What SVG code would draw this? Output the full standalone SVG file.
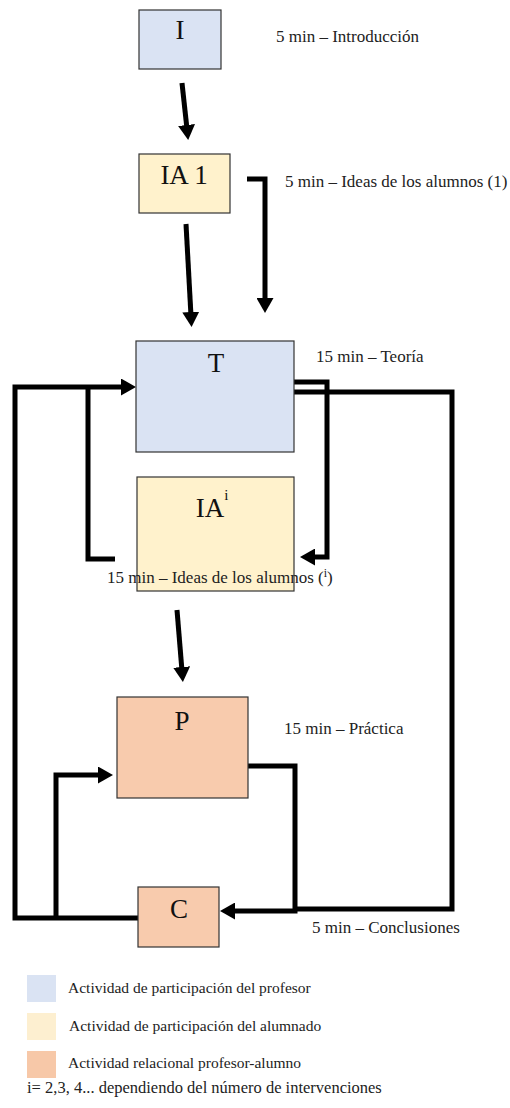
<svg xmlns="http://www.w3.org/2000/svg" width="510" height="1108" viewBox="0 0 510 1108">
<style>
.box{stroke:#333;stroke-width:1.2}
.blue{fill:#dae3f3}
.yel{fill:#fff2cc}
.ora{fill:#f8cbad}
.big{font-family:"Liberation Serif",serif;font-size:27px;fill:#111;text-anchor:middle}
.lbl{font-family:"Liberation Serif",serif;font-size:17px;fill:#222}
.leg{font-family:"Liberation Serif",serif;font-size:15.5px;fill:#222}
.c{fill:none;stroke:#000;stroke-width:5}
</style>
<defs>
<marker id="ah" viewBox="0 0 15 17" refX="4" refY="8.5" markerWidth="15" markerHeight="17" markerUnits="userSpaceOnUse" orient="auto">
<path d="M0,0 L15,8.5 L0,17 z" fill="#000"/>
</marker>
</defs>
<rect width="510" height="1108" fill="#fff"/>
<g id="connectors">
<path class="c" d="M182,83 L187,129" marker-end="url(#ah)"/>
<path class="c" d="M186,224 L191,316" marker-end="url(#ah)"/>
<path class="c" d="M247,179 H265 V302" marker-end="url(#ah)"/>
<path class="c" d="M294,382 H327 V557 H311" marker-end="url(#ah)"/>
<path class="c" d="M115,559 H88 V387"/>
<path class="c" d="M138,918 H15 V387 H125" marker-end="url(#ah)"/>
<path class="c" d="M56,918 V775 H102" marker-end="url(#ah)"/>
<path class="c" d="M294,392 H452 V909 H295"/>
<path class="c" d="M248,766 H295 V911 H231" marker-end="url(#ah)"/>
<path class="c" d="M177,610 L182,671" marker-end="url(#ah)"/>
</g>
<g id="node-I">
<rect class="box blue" x="139" y="10" width="82" height="59"/>
<text class="big" x="180" y="39">I</text>
<text class="lbl" x="276" y="42">5 min – Introducción</text>
</g>
<g id="node-IA1">
<rect class="box yel" x="139" y="154" width="91" height="59"/>
<text class="big" x="184" y="184">IA 1</text>
<text class="lbl" x="285" y="187">5 min – Ideas de los alumnos (1)</text>
</g>
<g id="node-T">
<rect class="box blue" x="136" y="341" width="158" height="111"/>
<text class="big" x="216" y="372">T</text>
<text class="lbl" x="316" y="362">15 min – Teoría</text>
</g>
<g id="node-IAi">
<rect class="box yel" x="137" y="477" width="157" height="114"/>
<text class="big" x="212" y="517">IA<tspan font-size="15" dy="-17">i</tspan></text>
<text class="lbl" x="107" y="583">15 min – Ideas de los alumnos (<tspan font-size="12" dy="-6">i</tspan><tspan dy="6">)</tspan></text>
</g>
<g id="node-P">
<rect class="box ora" x="117" y="697" width="131" height="101"/>
<text class="big" x="182" y="730">P</text>
<text class="lbl" x="284" y="734">15 min – Práctica</text>
</g>
<g id="node-C">
<rect class="box ora" x="138" y="887" width="81" height="60"/>
<text class="big" x="179" y="918">C</text>
<text class="lbl" x="312" y="933">5 min – Conclusiones</text>
</g>
<g id="legend">
<rect x="27" y="975" width="29" height="27" fill="#dae3f3"/>
<text class="leg" x="68" y="993">Actividad de participación del profesor</text>
<rect x="27" y="1013" width="29" height="27" fill="#fdefd0"/>
<text class="leg" x="69" y="1031">Actividad de participación del alumnado</text>
<rect x="27" y="1051" width="29" height="27" fill="#f7c8a8"/>
<text class="leg" x="68" y="1068">Actividad relacional profesor-alumno</text>
<text class="leg" x="27" y="1093" style="font-size:16.5px">i= 2,3, 4... dependiendo del número de intervenciones</text>
</g>
</svg>
